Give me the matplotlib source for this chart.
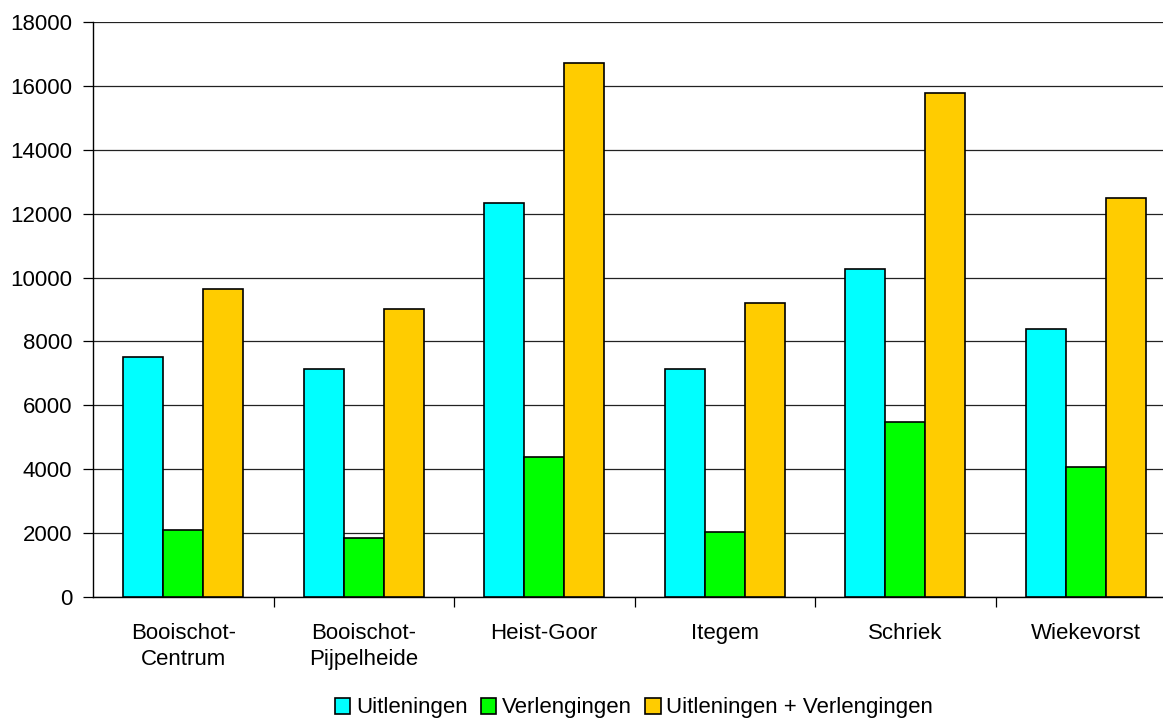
import matplotlib
matplotlib.use('Agg')
import matplotlib.pyplot as plt
import numpy as np

plt.rcParams['font.family'] = ['Liberation Sans', 'DejaVu Sans']

# data
locaties = ['Booischot-\nCentrum', 'Booischot-\nPijpelheide', 'Heist-Goor',
            'Itegem', 'Schriek', 'Wiekevorst']
uitleningen = [7510, 7150, 12330, 7140, 10270, 8390]
verlengingen = [2100, 1850, 4380, 2020, 5470, 4070]
totaal = [9640, 9020, 16730, 9190, 15770, 12490]

reeksen = ['Uitleningen', 'Verlengingen', 'Uitleningen + Verlengingen']
kleuren = ['#00FFFF', '#00FF00', '#FFCC00']

fig = plt.figure(figsize=(11.63, 7.22), dpi=100)
ax = fig.add_axes([93 / 1163, 1 - 597 / 722, (1176 - 93) / 1163, 575 / 722])

x = np.arange(len(locaties))
bw = 0.222
for i, (vals, kleur, naam) in enumerate(zip([uitleningen, verlengingen, totaal], kleuren, reeksen)):
    ax.bar(x + (i - 1) * bw, vals, bw, color=kleur, edgecolor='black',
           linewidth=1.2, label=naam, zorder=3)

ax.set_xlim(-0.5, len(locaties) - 0.5)
ax.set_ylim(0, 18000)
ax.set_yticks(np.arange(0, 18001, 2000))
ax.yaxis.grid(True, color='#222222', linewidth=0.9, zorder=0)

# category boundary ticks, labels in the middle
ax.set_xticks(np.arange(0.5, len(locaties) - 0.5, 1.0))
ax.set_xticklabels([])
ax.set_xticks(x, minor=True)
ax.set_xticklabels(locaties, minor=True, fontsize=16, linespacing=1.3)
ax.tick_params(axis='x', which='major', length=7, width=0.9, direction='out')
ax.tick_params(axis='x', which='minor', length=0, pad=19)
ax.tick_params(axis='y', length=7, width=0.9, direction='out', pad=8, labelsize=16)

for s in ['top', 'right']:
    ax.spines[s].set_visible(False)
ax.spines['left'].set_linewidth(1.0)
ax.spines['bottom'].set_linewidth(1.0)

fig.legend(loc='center', bbox_to_anchor=(634 / 1163, 1 - 708 / 722), ncol=3,
           frameon=False, fontsize=16, handlelength=0.7, handleheight=0.7,
           handletextpad=0.25, columnspacing=0.6, borderaxespad=0)

fig.savefig('out.png', dpi=100, facecolor='white')
